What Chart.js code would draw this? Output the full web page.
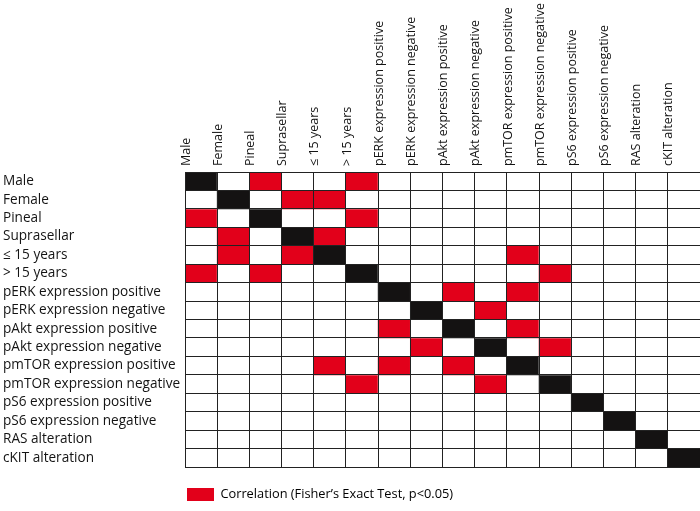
<!DOCTYPE html>
<html>
<head>
<meta charset="utf-8">
<script src="https://cdn.jsdelivr.net/npm/chart.js@4.4.1/dist/chart.umd.min.js"></script>
<style>
  html, body { margin: 0; padding: 0; background: #ffffff; }
  #wrap { width: 700px; height: 511px; }
</style>
</head>
<body>
<div id="wrap"><canvas id="c" width="700" height="511"></canvas></div>
<script>
const columnLabels = [
  'Male', 'Female', 'Pineal', 'Suprasellar', '\u2264 15 years', '> 15 years',
  'pERK expression positive', 'pERK expression negative',
  'pAkt expression positive', 'pAkt expression negative',
  'pmTOR expression positive', 'pmTOR expression negative',
  'pS6 expression positive', 'pS6 expression negative',
  'RAS alteration', 'cKIT alteration'
];
const rowLabels = columnLabels.slice();
// index pairs with a significant correlation (symmetric)
const correlatedPairs = [
  [0, 2], [0, 5], [1, 3], [1, 4], [2, 5], [3, 4],
  [4, 10], [5, 11], [6, 8], [6, 10], [7, 9], [8, 10], [9, 11]
];
const legendText = 'Correlation (Fisher\u2019s Exact Test, p<0.05)';

const RED = '#e2001a';
const BLACK = '#141212';
const WHITE = '#ffffff';
const LINE = '#222222';
const FONT = "'Open Sans', 'DejaVu Sans', sans-serif";

const n = rowLabels.length;
const cellType = rowLabels.map((_, r) => columnLabels.map((_, c) => (r === c ? 2 : 0)));
correlatedPairs.forEach(([a, b]) => { cellType[a][b] = 1; cellType[b][a] = 1; });

const datasets = rowLabels.map((label, r) => ({
  label: label,
  data: columnLabels.map(() => [r, r + 1]),
  backgroundColor: cellType[r].map(t => (t === 2 ? BLACK : t === 1 ? RED : WHITE)),
  borderWidth: 0,
  grouped: false,
  barPercentage: 1,
  categoryPercentage: 1
}));

new Chart(document.getElementById('c'), {
  type: 'bar',
  data: { labels: columnLabels, datasets: datasets },
  options: {
    responsive: false,
    animation: false,
    events: [],
    layout: { padding: { left: 3, right: 0, top: 0, bottom: 0 } },
    scales: {
      x: {
        type: 'category',
        position: 'top',
        offset: true,
        grid: { offset: true, color: LINE, lineWidth: 1, drawTicks: false, z: 1 },
        border: { display: true, color: LINE, width: 1, z: 1 },
        ticks: {
          autoSkip: false, maxRotation: 90, minRotation: 90, padding: 6,
          color: '#141414', font: { family: FONT, size: 12.5 }
        },
        afterFit: s => { s.height = 172; }
      },
      y: {
        type: 'linear',
        position: 'left',
        min: 0, max: n, reverse: true,
        weight: 0,
        grid: { color: LINE, lineWidth: 1, drawTicks: false, z: 1 },
        border: { display: true, color: LINE, width: 1, z: 1 },
        ticks: { stepSize: 1, display: false },
        afterFit: s => { s.width = 0; }
      },
      yLab: {
        type: 'category',
        position: 'left',
        labels: rowLabels,
        offset: true,
        weight: 1,
        grid: { display: false },
        border: { display: false },
        ticks: {
          autoSkip: false, crossAlign: 'far', padding: 0,
          color: '#141414', font: { family: FONT, size: 13.6 }
        },
        afterFit: s => { s.width = 182; }
      },
      xPad: {
        type: 'category',
        position: 'bottom',
        labels: [''],
        grid: { display: false },
        border: { display: false },
        ticks: { display: false },
        afterFit: s => { s.height = 19; }
      }
    },
    plugins: {
      tooltip: { enabled: false },
      legend: {
        display: true,
        position: 'bottom',
        align: 'start',
        fullSize: false,
        onClick: null,
        labels: {
          boxWidth: 27, boxHeight: 13, padding: 2,
          color: '#141414', font: { family: FONT, size: 12.8 },
          generateLabels: () => [{
            text: legendText, fillStyle: RED, strokeStyle: RED, lineWidth: 0, hidden: false, datasetIndex: 0
          }]
        }
      }
    }
  }
});
</script>
</body>
</html>
